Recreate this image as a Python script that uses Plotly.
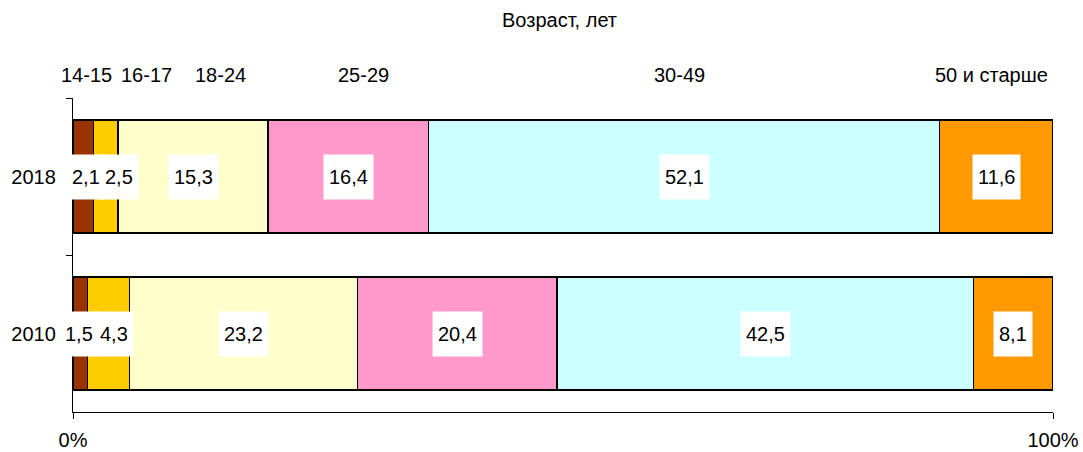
import plotly.graph_objects as go

# data
years = ["2018", "2010"]
age_groups = ["14-15", "16-17", "18-24", "25-29", "30-49", "50 и старше"]
share_2018 = [2.1, 2.5, 15.3, 16.4, 52.1, 11.6]
share_2010 = [1.5, 4.3, 23.2, 20.4, 42.5, 8.1]
colors = ["#993300", "#FFCC00", "#FFFFCC", "#FF99CC", "#CCFFFF", "#FF9900"]
# where the age captions sit above the bars (in % of axis)
group_label_x = [1.4, 7.45, 15.05, 29.6, 61.85, 93.7]

FONT = "Liberation Sans, Arial, sans-serif"
FS = 20

# small nudges so the narrow labels don't hide each other (px)
label_shift = {(0, 0): 3, (0, 1): 13, (1, 0): -1, (1, 1): 5}

fig = go.Figure()
for i, grp in enumerate(age_groups):
    fig.add_trace(go.Bar(
        name=grp, orientation="h",
        y=years, x=[share_2018[i], share_2010[i]],
        marker=dict(color=colors[i], line=dict(color="black", width=1.3)),
        showlegend=False, hoverinfo="x+name",
    ))

# value labels in white boxes at segment centres
# (y given as category index, numeric-looking year names would be read as positions)
for yi, vals in enumerate([share_2018, share_2010]):
    left = 0
    for j, v in enumerate(vals):
        fig.add_annotation(
            x=left + v / 2, y=yi, xref="x", yref="y",
            xshift=label_shift.get((yi, j), 0),
            text=f"{v:.1f}".replace(".", ","), showarrow=False,
            bgcolor="white", borderpad=5, height=34,
            font=dict(family=FONT, size=FS, color="black"),
        )
        left += v

# age group captions above the plot
for grp, gx in zip(age_groups, group_label_x):
    fig.add_annotation(
        x=gx, y=1.073, xref="x", yref="paper", text=grp, showarrow=False,
        yanchor="middle", font=dict(family=FONT, size=FS, color="black"),
    )

fig.add_annotation(
    x=0.496, y=1.248, xref="paper", yref="paper", text="Возраст, лет",
    showarrow=False, yanchor="middle",
    font=dict(family=FONT, size=FS, color="black"),
)

fig.update_layout(
    barmode="stack", bargap=0.28,
    width=1083, height=452,
    margin=dict(l=73, r=30, t=98, b=40),
    plot_bgcolor="white", paper_bgcolor="white",
    font=dict(family=FONT, size=FS, color="black"),
    xaxis=dict(
        range=[0, 100], tickvals=[0, 100], ticktext=["0%", "100%"],
        showgrid=False, zeroline=False, showline=True, linecolor="black",
        linewidth=1.3, ticks="outside", ticklen=6, tickcolor="black",
        ticklabelstandoff=4, automargin=False,
    ),
    yaxis=dict(
        type="category", categoryorder="array", categoryarray=years,
        range=[1.5, -0.5], tickson="boundaries",
        showgrid=False, zeroline=False, showline=True, linecolor="black",
        linewidth=1.3, ticks="outside", ticklen=6, tickcolor="black",
        ticklabelstandoff=12, automargin=False,
    ),
)

# drop the page's default 8px body margin so the figure fills the window
fig.write_html("out.html", config={"displayModeBar": False},
               post_script="document.body.style.margin='0';")
